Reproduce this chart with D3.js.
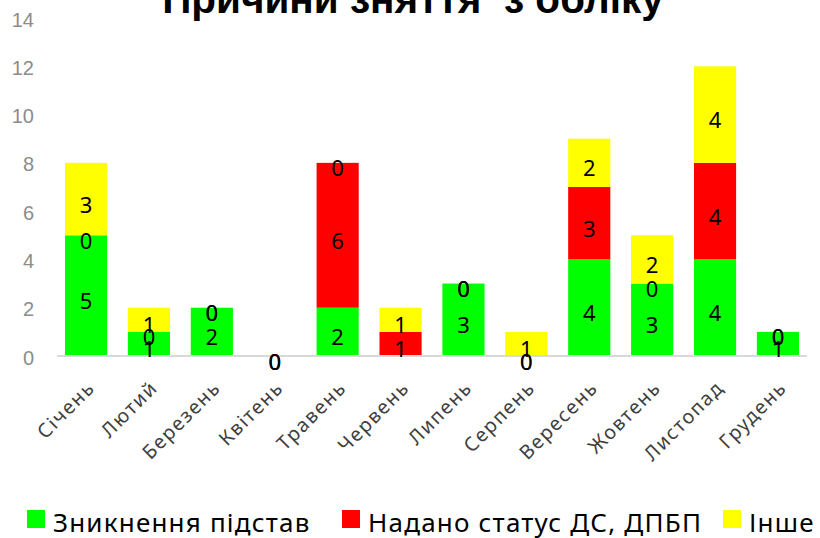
<!DOCTYPE html>
<html>
<head>
<meta charset="utf-8">
<script src="https://cdn.jsdelivr.net/npm/d3@7"></script>
<style>
  body { margin: 0; background: #fff; }
  svg { display: block; }
</style>
</head>
<body>
<script>
// Data
const months = ["Січень", "Лютий", "Березень", "Квітень", "Травень", "Червень",
                "Липень", "Серпень", "Вересень", "Жовтень", "Листопад", "Грудень"];
const seriesNames = ["Зникнення підстав", "Надано статус ДС, ДПБП", "Інше"];
const lostGrounds = [5, 1, 2, 0, 2, null, 3, 0, 4, 3, 4, 1];
const statusGiven = [0, 0, 0, 0, 6, 1, 0, 0, 3, 0, 4, 0];
const other       = [3, 1, 0, 0, 0, 1, 0, 1, 2, 2, 4, 0];
const yTicks = [0, 2, 4, 6, 8, 10, 12, 14];

const colors = ["#00ff00", "#ff0000", "#ffff00"];
const width = 820, height = 538;

const svg = d3.select("body").append("svg")
    .attr("width", width)
    .attr("height", height);

// Scales
const x = d3.scaleBand()
    .domain(months)
    .range([57, 807])
    .paddingInner(0.33)
    .paddingOuter(0.127);

const y = d3.scaleLinear()
    .domain([0, 14])
    .range([356, 18]);

// Title (cut off at the top, like in the original)
svg.append("text")
    .attr("x", 413)
    .attr("y", 13)
    .attr("text-anchor", "middle")
    .style("font-family", "Liberation Sans, Arial, sans-serif")
    .style("font-weight", "bold")
    .style("font-size", "40.5px")
    .style("white-space", "pre")
    .text("Причини зняття  з обліку");

// Y axis labels (no axis line, no gridlines)
const yAxis = svg.append("g")
    .attr("transform", "translate(34,0)")
    .call(d3.axisLeft(y).tickValues(yTicks).tickSize(0).tickPadding(0));
yAxis.select(".domain").remove();
yAxis.selectAll("text")
    .attr("dy", "0.4em")
    .style("font-family", "Liberation Sans, Arial, sans-serif")
    .style("font-size", "20px")
    .style("fill", "#8c8c8c");

// Stack the three series by hand (null = no value, no label)
const series = [lostGrounds, statusGiven, other];
const stacked = series.map(() => []);
months.forEach((m, i) => {
    let base = 0;
    series.forEach((s, k) => {
        const v = s[i];
        const top = base + (v || 0);
        stacked[k].push({ month: m, value: v, y0: base, y1: top });
        base = top;
    });
});

// Bars
stacked.forEach((layer, k) => {
    svg.append("g")
        .selectAll("rect")
        .data(layer)
        .enter().append("rect")
        .attr("x", d => x(d.month))
        .attr("width", x.bandwidth())
        .attr("y", d => y(d.y1))
        .attr("height", d => y(d.y0) - y(d.y1))
        .style("fill", colors[k]);
});

// X axis line
svg.append("line")
    .attr("x1", 57).attr("x2", 807)
    .attr("y1", 356).attr("y2", 356)
    .style("stroke", "#d9d9d9")
    .style("stroke-width", 2);

// Data labels, centred in each segment
stacked.forEach(layer => {
    svg.append("g")
        .selectAll("text")
        .data(layer.filter(d => d.value !== null))
        .enter().append("text")
        .attr("x", d => x(d.month) + x.bandwidth() / 2)
        .attr("y", d => y((d.y0 + d.y1) / 2) + 13.5)
        .attr("text-anchor", "middle")
        .style("font-family", "Noto Sans, sans-serif")
        .style("font-size", "22px")
        .style("fill", "#000")
        .text(d => d.value);
});

// Month labels, rotated
svg.append("g")
    .selectAll("text")
    .data(months)
    .enter().append("text")
    .attr("transform", d => "translate(" + (x(d) + x.bandwidth() / 2 + 10) + ",389) rotate(-45)")
    .attr("text-anchor", "end")
    .style("font-family", "Noto Sans, sans-serif")
    .style("font-size", "19.5px")
    .style("letter-spacing", "1.6px")
    .style("fill", "#404040")
    .text(d => d);

// Legend
const legendX = [27, 342, 723];
const legend = svg.selectAll(".legend")
    .data(seriesNames)
    .enter().append("g")
    .attr("class", "legend")
    .attr("transform", (d, i) => "translate(" + legendX[i] + ",510)");

legend.append("rect")
    .attr("width", 18)
    .attr("height", 18)
    .style("fill", (d, i) => colors[i]);

legend.append("text")
    .attr("x", 26)
    .attr("y", 21.5)
    .style("font-family", "Noto Sans, sans-serif")
    .style("font-size", "26px")
    .style("letter-spacing", "1.2px")
    .style("fill", "#000")
    .text(d => d);
</script>
</body>
</html>
